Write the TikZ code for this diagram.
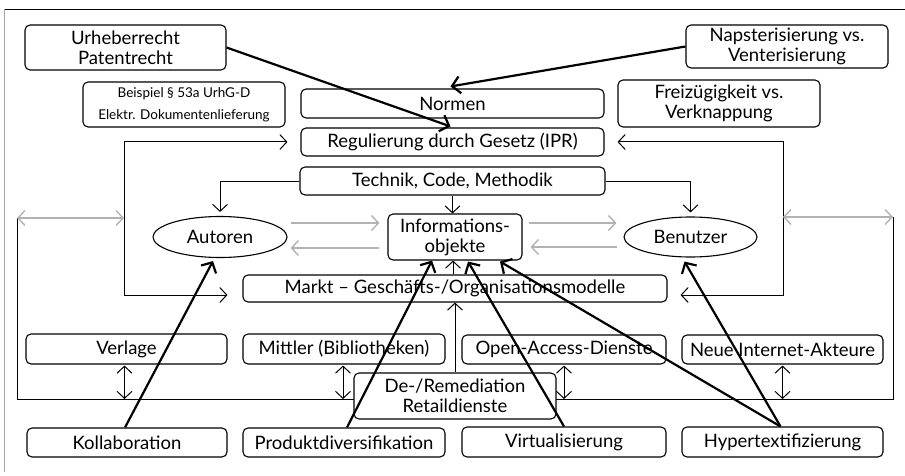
\documentclass[tikz,border=0pt]{standalone}
\usepackage{fontspec}
\setmainfont{Lato}
\usetikzlibrary{arrows.meta,calc,shapes.geometric}
\tikzset{
  box/.style={draw, rounded corners=5pt, line width=1.1pt, fill=white, inner sep=0pt,
    align=center, font=\fontsize{18.5}{20}\selectfont},
  smallbox/.style={box, font=\fontsize{13.5}{22}\selectfont},
  ell/.style={draw, ellipse, line width=1.1pt, fill=white, inner sep=0pt,
    font=\fontsize{18.5}{20}\selectfont},
  thinline/.style={line width=1pt},
  arr/.style={thinline, -{Straight Barb[length=7pt,width=15pt]}},
  both/.style={thinline, {Straight Barb[length=7pt,width=15pt]}-{Straight Barb[length=7pt,width=15pt]}},
  greyboth/.style={line width=1.4pt, draw=gray!60, {Straight Barb[length=7pt,width=15pt]}-{Straight Barb[length=7pt,width=15pt]}},
  greyarr/.style={line width=1.4pt, draw=gray!60, -{Straight Barb[length=7pt,width=15pt]}},
  thickarr/.style={line width=2.2pt, -{Straight Barb[length=8pt,width=17pt]}},
}
\begin{document}
\begin{tikzpicture}[x=1pt,y=-1pt]
\useasboundingbox (0,0) rectangle (905,476);
% frame
\draw[line width=0.9pt] (905,9) -- (4,9);
\draw[line width=0.8pt, gray!70] (4,9) -- (4,472);

% nodes
\node[box, minimum width=201, minimum height=45] (urh) at (125.5,47.5) {Urheberrecht\\Patentrecht};
\node[box, minimum width=202, minimum height=43] (nap) at (787,46.5) {Napsterisierung vs.\\Venterisierung};
\node[smallbox, minimum width=202, minimum height=45] (bsp) at (184,104.5) {Beispiel § 53a UrhG-D\\Elektr. Dokumentenlieferung};
\node[box, minimum width=303, minimum height=29] (norm) at (452.5,103.5) {Normen};
\node[box, minimum width=202, minimum height=47] (frei) at (719,103.5) {Freizügigkeit vs.\\Verknappung};
\node[box, minimum width=303, minimum height=28] (reg) at (452.5,142) {Regulierung durch Gesetz (IPR)};
\node[box, minimum width=305, minimum height=28] (tech) at (452.5,181) {Technik, Code, Methodik};
\node[box, minimum width=134, minimum height=46] (info) at (455,237) {Informations-\\objekte};
\node[ell, minimum width=134, minimum height=41] (aut) at (220,237) {Autoren};
\node[ell, minimum width=133, minimum height=40] (ben) at (690.5,237) {Benutzer};
\node[box, minimum width=424, minimum height=27] (markt) at (455,288.5) {Markt -- Geschäfts-/Organisationsmodelle};
\node[box, minimum width=201, minimum height=30] (verl) at (126.5,349) {Verlage};
\node[box, minimum width=202, minimum height=30] (mitt) at (344,349) {Mittler (Bibliotheken)};
\node[box, minimum width=204, minimum height=29] (oa) at (564,349.5) {Open-Access-Dienste};
\node[box, minimum width=201, minimum height=29] (neue) at (782.5,349.5) {Neue Internet-Akteure};
\node[box, minimum width=200, minimum height=29] (koll) at (127,442.5) {Kollaboration};
\node[box, minimum width=202, minimum height=29] (prod) at (344,442.5) {Produktdiversifikation};
\node[box, minimum width=204, minimum height=30] (virt) at (564,442) {Virtualisierung};
\node[box, minimum width=201, minimum height=30] (hyp) at (782.5,442) {Hypertextifizierung};

% coordinates for loops
\coordinate (L1) at (124,142);
\coordinate (L2) at (124,295);
\coordinate (R1) at (783,142);
\coordinate (R2) at (783,295);
\coordinate (GL1) at (17,218);
\coordinate (GL2) at (17,399);
\coordinate (GR1) at (893,217);
\coordinate (GR2) at (893,399);

% outer loops (behind De-/Remediation box)
\draw[thinline] (GL1) -- (GL2) -- (GR2) -- (GR1);

\node[box, minimum width=202, minimum height=46] (derem) at (455,396) {De-/Remediation\\Retaildienste};

% regulation / market loops
\draw[both, shorten <=13pt, shorten >=15pt]
  (reg.west) -- (L1) -- (L2) -- (markt.west |- L2);
\draw[both, shorten <=13pt, shorten >=13pt]
  (reg.east) -- (R1) -- (R2) -- (markt.east |- R2);

% grey double arrows at the sides
\draw[greyboth] (GL1) -- (L1 |- GL1);
\draw[greyboth] (R1 |- GR1) -- (GR1);

% technik arrows
\draw[arr, shorten >=4pt] (tech.west) -| (aut.north);
\draw[arr, shorten >=4pt] (tech.east) -| (ben.north);
\draw[arr] (tech.south) -- (tech.south |- info.north);

% grey arrows between authors, objects, users
\draw[greyarr] ($(aut.east)+(3,-14)$) -- ($(info.west)+(-8,-14)$);
\draw[greyarr] ($(info.west)+(-8,11)$) -- ($(aut.east)+(3,11)$);
\draw[greyarr] ($(info.east)+(6,-14)$) -- ($(ben.west)+(-7,-14)$);
\draw[greyarr] ($(ben.west)+(-6,10)$) -- ($(info.east)+(8,10)$);

% market arrows
\draw[arr] ($(markt.north)+(-2,0)$) -- ($(info.south)+(-2,0)$);
\draw[arr] (derem.north) -- (markt.south);

% small vertical double arrows
\draw[both] ($(verl.south)+(-2,1)$) -- ($(verl.south |- GL2)+(-2,0)$);
\draw[both] ($(mitt.south)+(-1,1)$) -- ($(mitt.south |- GL2)+(-1,0)$);
\draw[both] ($(oa.south)+(0,1)$) -- (oa.south |- GL2);
\draw[both] ($(neue.south)+(0,1)$) -- (neue.south |- GL2);

% thick arrows
\draw[thickarr] (urh.east) -- ($(reg.north)+(-2,-1)$);
\draw[thickarr] (nap.west) -- ($(norm.north)+(-2,-2)$);
\draw[thickarr] ($(koll.north)+(-2,0)$) -- ($(aut.south)+(-7,3)$);
\draw[thickarr] ($(prod.north)+(3,0)$) -- ($(info.south)+(-23,0)$);
\draw[thickarr] (virt.north) -- ($(info.south)+(13,1)$);
\draw[thickarr] ($(hyp.north)+(-2,0)$) -- ($(info.south)+(45,1)$);
\draw[thickarr] ($(hyp.north)+(-2,0)$) -- ($(ben.south)+(-6,4)$);
\end{tikzpicture}
\end{document}
